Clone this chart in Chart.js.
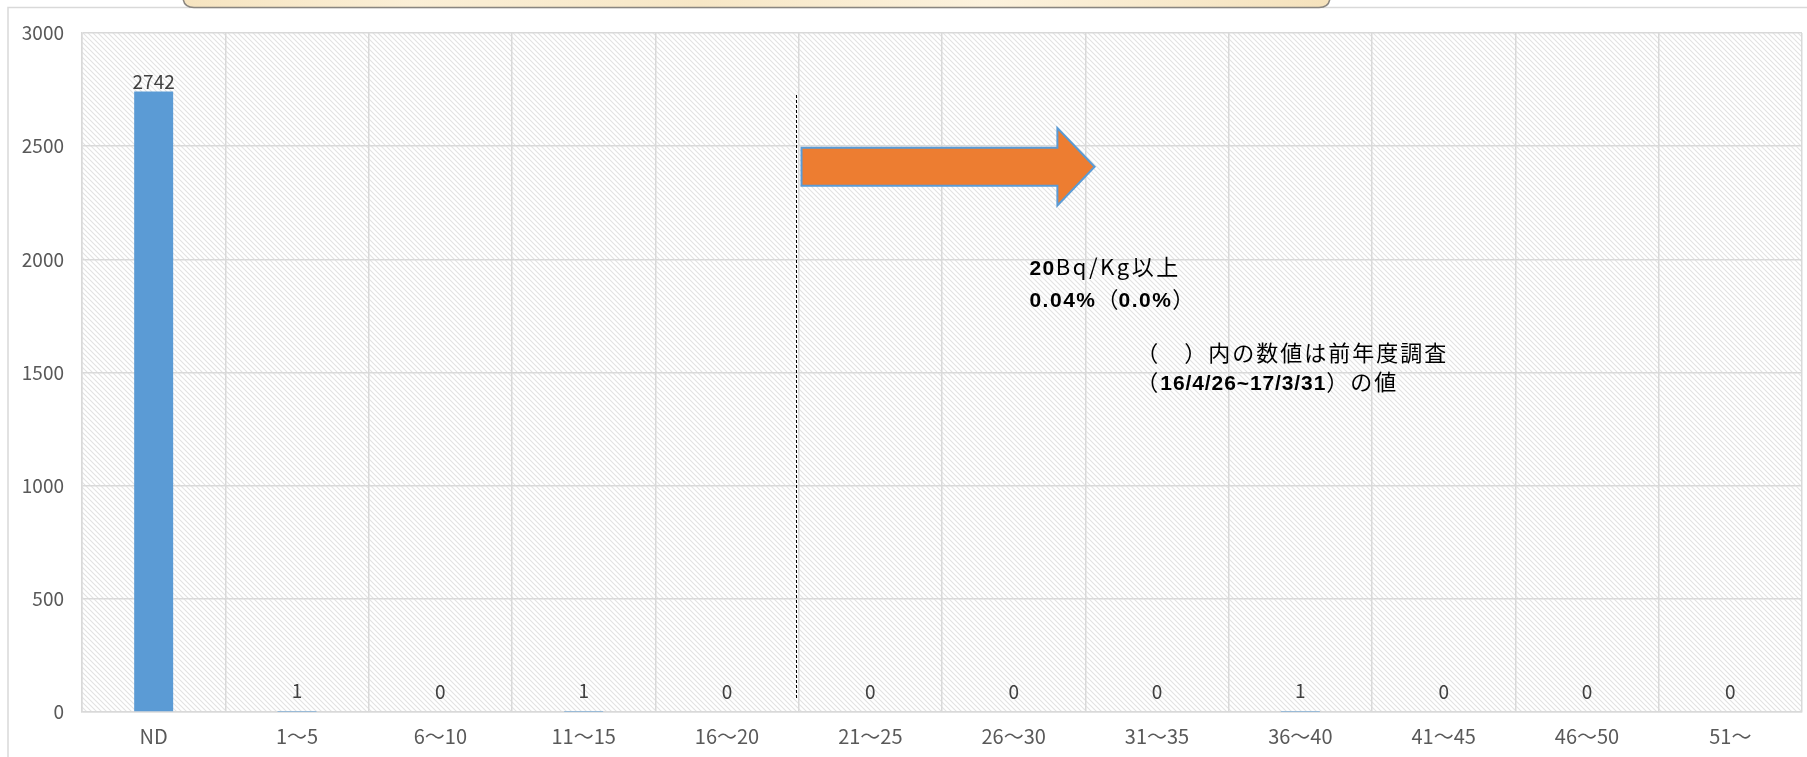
<!DOCTYPE html>
<html><head><meta charset="utf-8">
<script src="https://cdn.jsdelivr.net/npm/chart.js@4.4.1/dist/chart.umd.min.js"></script>
<style>html,body{margin:0;padding:0;background:#fff;overflow:hidden}canvas{display:block}</style>
</head><body>
<canvas id="c" width="1807" height="757"></canvas>
<script>
// ---- data ----
const categories = ['ND','1～5','6～10','11～15','16～20','21～25','26～30','31～35','36～40','41～45','46～50','51～'];
const counts = [2742, 1, 0, 1, 0, 0, 0, 0, 1, 0, 0, 0];
const yTicks = [0, 500, 1000, 1500, 2000, 2500, 3000];
const noteLine1 = [['20', true], ['Bq/Kg', false], ['以上', false]];
const noteLine2 = [['0.04%', true], ['（', false], ['0.0%', true], ['）', false]];
const remarkLine1 = [['（　）内の数値は前年度調査', false]];
const remarkLine2 = [['（', false], ['16/4/26~17/3/31', true], ['）の値', false]];

const FONT = '"Noto Sans CJK JP", "Noto Sans", sans-serif';
const TICK = '#595959';
const GRID = '#d9d9d9';

// hatch pattern
const pc = document.createElement('canvas'); pc.width = pc.height = 5;
const pctx = pc.getContext('2d');
pctx.fillStyle = '#fff'; pctx.fillRect(0,0,5,5);
pctx.strokeStyle = '#e2e2e2'; pctx.lineWidth = 1.1;
pctx.beginPath();
pctx.moveTo(-1,-1); pctx.lineTo(6,6);
pctx.moveTo(-1,4); pctx.lineTo(1,6);
pctx.moveTo(4,-1); pctx.lineTo(6,1);
pctx.stroke();

function catX(chart, f){ const a = chart.chartArea; return a.left + f * (a.right - a.left) / categories.length; }
function valY(chart, v){ return chart.scales.y.getPixelForValue(v); }

function drawRuns(ctx, x, y, runs, size, spacing, boldSpacing){
  ctx.textBaseline = 'alphabetic'; ctx.textAlign = 'left';
  for (const [t, bold] of runs){
    ctx.font = bold ? ('bold ' + size + 'px "Liberation Sans", Arial, sans-serif') : ((size + 1) + 'px ' + FONT);
    ctx.letterSpacing = (bold ? boldSpacing : spacing) + 'px';
    ctx.fillText(t, x, y);
    x += ctx.measureText(t).width;
  }
  ctx.letterSpacing = '0px';
}

const bgPlugin = {
  id: 'bg',
  beforeDraw(chart){
    const ctx = chart.ctx, a = chart.chartArea;
    ctx.save();
    ctx.fillStyle = '#fff'; ctx.fillRect(0,0,chart.width,chart.height);
    // outer chart frame
    ctx.strokeStyle = '#d9d9d9'; ctx.lineWidth = 1.5;
    ctx.beginPath(); ctx.moveTo(8, chart.height + 5); ctx.lineTo(8, 7.5); ctx.lineTo(chart.width + 5, 7.5); ctx.stroke();
    // callout box at top
    const bx0 = 183, bx1 = 1330, by1 = 7.5, r = 11;
    const g = ctx.createLinearGradient(bx0, 0, bx1, 0);
    g.addColorStop(0, '#f6e4c0'); g.addColorStop(0.2, '#fbefd6'); g.addColorStop(0.45, '#f7e7c6');
    g.addColorStop(0.7, '#fcf2dd'); g.addColorStop(1, '#f5e2bc');
    ctx.fillStyle = g;
    ctx.beginPath();
    ctx.moveTo(bx0, -40); ctx.lineTo(bx0, by1 - r); ctx.quadraticCurveTo(bx0, by1, bx0 + r, by1);
    ctx.lineTo(bx1 - r, by1); ctx.quadraticCurveTo(bx1, by1, bx1, by1 - r); ctx.lineTo(bx1, -40); ctx.closePath();
    ctx.fill();
    ctx.strokeStyle = '#8a8680'; ctx.lineWidth = 1.5; ctx.stroke();
    // hatched plot area
    ctx.fillStyle = ctx.createPattern(pc, 'repeat');
    ctx.fillRect(a.left, a.top, a.right - a.left, a.bottom - a.top);
    ctx.restore();
  },
  afterDatasetsDraw(chart){
    const ctx = chart.ctx;
    ctx.save();
    // value labels
    const meta = chart.getDatasetMeta(0);
    ctx.font = '19px ' + FONT; ctx.fillStyle = '#404040'; ctx.textAlign = 'center'; ctx.textBaseline = 'middle';
    meta.data.forEach((bar, i) => {
      const y = Math.min(bar.y - 9.5, bar.base - 20.5);
      ctx.fillText(String(counts[i]), bar.x, y);
    });
    // dashed divider
    ctx.strokeStyle = '#000'; ctx.lineWidth = 1; ctx.setLineDash([3, 2]);
    const dx = Math.round(catX(chart, 4.98)) + 0.5;
    ctx.beginPath(); ctx.moveTo(dx, valY(chart, 2726)); ctx.lineTo(dx, valY(chart, 57)); ctx.stroke();
    ctx.setLineDash([]);
    // arrow
    const x0 = catX(chart, 5.02), x1 = catX(chart, 6.805), xt = catX(chart, 7.065);
    const yb0 = valY(chart, 2493), yb1 = valY(chart, 2325), yh0 = valY(chart, 2580), yh1 = valY(chart, 2238), ym = valY(chart, 2409);
    ctx.beginPath();
    ctx.moveTo(x0, yb0); ctx.lineTo(x1, yb0); ctx.lineTo(x1, yh0); ctx.lineTo(xt, ym);
    ctx.lineTo(x1, yh1); ctx.lineTo(x1, yb1); ctx.lineTo(x0, yb1); ctx.closePath();
    ctx.fillStyle = '#ed7d31'; ctx.fill();
    ctx.strokeStyle = '#5b9bd5'; ctx.lineWidth = 2; ctx.lineJoin = 'miter'; ctx.stroke();
    // notes
    ctx.fillStyle = '#000';
    drawRuns(ctx, catX(chart, 6.61), valY(chart, 1930), noteLine1, 21, 2.5, 1.5);
    drawRuns(ctx, catX(chart, 6.61), valY(chart, 1789), noteLine2, 21, 0, 1.5);
    drawRuns(ctx, catX(chart, 7.356), valY(chart, 1550), remarkLine1, 21, 2, 0.9);
    drawRuns(ctx, catX(chart, 7.356), valY(chart, 1423), remarkLine2, 21, 2, 0.9);
    ctx.restore();
  }
};

new Chart(document.getElementById('c'), {
  type: 'bar',
  data: {
    labels: categories,
    datasets: [{ data: counts, backgroundColor: '#5b9bd5', borderWidth: 0, barPercentage: 0.272, categoryPercentage: 1 }]
  },
  options: {
    responsive: false, animation: false, devicePixelRatio: 1,
    layout: { padding: { top: 33, right: 5, left: 0, bottom: 0 } },
    plugins: { legend: { display: false }, tooltip: { enabled: false } },
    scales: {
      x: {
        grid: { color: GRID, lineWidth: 1.5, drawTicks: false, offset: true },
        border: { color: GRID, width: 1.5 },
        ticks: { color: TICK, font: { family: FONT, size: 20 }, padding: 12, maxRotation: 0, autoSkip: false },
        afterFit(s){ s.height = 45; }
      },
      y: {
        min: 0, max: 3000,
        afterBuildTicks(s){ s.ticks = yTicks.map(v => ({ value: v })); },
        grid: { color: GRID, lineWidth: 1.5, drawTicks: false },
        border: { color: GRID, width: 1.5 },
        ticks: { color: TICK, font: { family: FONT, size: 19 }, padding: 18, callback: v => String(v) },
        afterFit(s){ s.width = 82; }
      }
    }
  },
  plugins: [bgPlugin]
});
</script>
</body></html>
